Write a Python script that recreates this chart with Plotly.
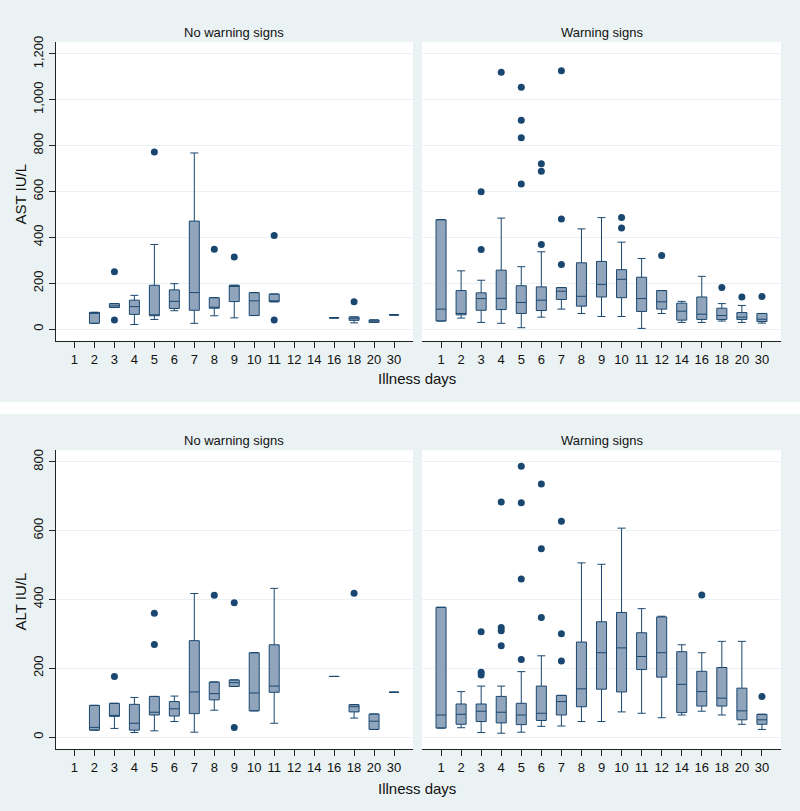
import plotly.graph_objects as go

days = ["1", "2", "3", "4", "5", "6", "7", "8", "9", "10", "11", "12", "14", "16", "18", "20", "30"]

# AST, no warning signs
ast_nw_x = ["2", "3", "4", "5", "6", "7", "8", "9", "10", "11", "16", "18", "20", "30"]
ast_nw_q1 = [25, 94, 64, 58, 90, 82, 91, 120, 59, 119, 49, 38, 29, 62]
ast_nw_med = [70, 101, 98, 60, 121, 159, 91, 186, 123, 119, 49, 45, 35, 62]
ast_nw_q3 = [73, 111, 126, 191, 171, 471, 137, 191, 159, 153, 49, 53, 40, 62]
ast_nw_lo = [25, 94, 20, 42, 80, 25, 58, 49, 59, 119, 49, 27, 29, 62]
ast_nw_hi = [73, 111, 147, 369, 198, 768, 137, 191, 159, 153, 49, 53, 40, 62]
ast_nw_out_x = ["3", "3", "5", "8", "9", "11", "11", "18"]
ast_nw_out_y = [250, 40, 772, 348, 314, 408, 40, 119]

# AST, warning signs
ast_w_x = ["1", "2", "3", "4", "5", "6", "7", "8", "9", "10", "11", "12", "14", "16", "18", "20", "30"]
ast_w_q1 = [35, 62, 82, 85, 68, 81, 129, 100, 140, 137, 77, 87, 39, 42, 42, 42, 33]
ast_w_med = [87, 68, 133, 134, 116, 126, 165, 143, 195, 217, 133, 119, 78, 65, 59, 52, 43]
ast_w_q3 = [477, 168, 158, 257, 189, 184, 181, 289, 295, 259, 226, 168, 113, 140, 91, 72, 68]
ast_w_lo = [35, 48, 29, 25, 6, 52, 87, 68, 55, 55, 3, 68, 29, 29, 35, 29, 26]
ast_w_hi = [477, 254, 213, 484, 272, 337, 181, 437, 486, 379, 308, 168, 121, 230, 111, 103, 68]
ast_w_out_x = ["3", "3", "4", "5", "5", "5", "5", "6", "6", "6", "7", "7", "7", "10", "10", "12", "18", "20", "30"]
ast_w_out_y = [599, 347, 1120, 1055, 911, 834, 633, 721, 688, 369, 1126, 480, 282, 486, 441, 321, 181, 140, 142]

# ALT, no warning signs
alt_nw_x = ["2", "3", "4", "5", "6", "7", "8", "9", "10", "11", "16", "18", "20", "30"]
alt_nw_q1 = [20, 60, 20, 64, 61, 68, 108, 147, 76, 130, 176, 73, 22, 130]
alt_nw_med = [28, 61, 40, 72, 82, 131, 126, 158, 128, 148, 176, 88, 46, 130]
alt_nw_q3 = [92, 98, 95, 118, 103, 280, 160, 166, 245, 268, 176, 94, 67, 130]
alt_nw_lo = [20, 25, 13, 18, 45, 14, 78, 147, 76, 40, 176, 55, 22, 130]
alt_nw_hi = [92, 98, 115, 118, 119, 417, 160, 166, 245, 432, 176, 94, 67, 130]
alt_nw_out_x = ["3", "5", "5", "8", "9", "9", "18"]
alt_nw_out_y = [176, 360, 269, 412, 390, 28, 418]

# ALT, warning signs
alt_w_x = ["1", "2", "3", "4", "5", "6", "7", "8", "9", "10", "11", "12", "14", "16", "18", "20", "30"]
alt_w_q1 = [26, 37, 45, 41, 36, 48, 64, 88, 139, 131, 196, 174, 71, 90, 90, 50, 37]
alt_w_med = [64, 66, 75, 72, 64, 69, 103, 140, 245, 259, 234, 245, 153, 132, 113, 76, 50]
alt_w_q3 = [377, 96, 96, 118, 98, 148, 121, 276, 335, 362, 303, 349, 248, 191, 202, 142, 66]
alt_w_lo = [26, 27, 13, 11, 14, 31, 32, 45, 45, 73, 69, 56, 64, 75, 64, 37, 22]
alt_w_hi = [377, 132, 148, 148, 190, 236, 121, 506, 502, 607, 373, 351, 268, 245, 278, 278, 66]
alt_w_out_x = ["3", "3", "3", "4", "4", "4", "4", "5", "5", "5", "5", "6", "6", "6", "7", "7", "7", "16", "30"]
alt_w_out_y = [306, 188, 180, 683, 318, 309, 265, 787, 681, 459, 225, 735, 547, 347, 627, 300, 221, 413, 118]

BG = "#EAF2F3"
NAVY = "#1A476F"
FILL = "#90A4BB"
FONT = "Liberation Sans"

fig = go.Figure()


def add_panel(xa, ya, x, q1, med, q3, lo, hi, out_x, out_y):
    fig.add_trace(go.Box(
        x=x, q1=q1, median=med, q3=q3, lowerfence=lo, upperfence=hi,
        xaxis=xa, yaxis=ya, width=0.5, whiskerwidth=0.8,
        fillcolor=FILL, line=dict(color=NAVY, width=1),
        boxpoints=False, showlegend=False, hoverinfo="skip"))
    fig.add_trace(go.Scatter(
        x=out_x, y=out_y, mode="markers", xaxis=xa, yaxis=ya,
        marker=dict(color=NAVY, size=7), showlegend=False))


add_panel("x", "y", ast_nw_x, ast_nw_q1, ast_nw_med, ast_nw_q3,
          ast_nw_lo, ast_nw_hi, ast_nw_out_x, ast_nw_out_y)
add_panel("x2", "y2", ast_w_x, ast_w_q1, ast_w_med, ast_w_q3,
          ast_w_lo, ast_w_hi, ast_w_out_x, ast_w_out_y)
add_panel("x3", "y3", alt_nw_x, alt_nw_q1, alt_nw_med, alt_nw_q3,
          alt_nw_lo, alt_nw_hi, alt_nw_out_x, alt_nw_out_y)
add_panel("x4", "y4", alt_w_x, alt_w_q1, alt_w_med, alt_w_q3,
          alt_w_lo, alt_w_hi, alt_w_out_x, alt_w_out_y)

W, H = 800, 811
left_dom = [55.5 / W, 413 / W]
right_dom = [422 / W, 781 / W]
top_dom = [(H - 337.5) / H, (H - 36) / H]
bot_dom = [(H - 748.5) / H, (H - 447.5) / H]

xcommon = dict(type="category", categoryorder="array", categoryarray=days,
               range=[-0.95, 16.95], showline=True, linecolor="#222",
               linewidth=1, ticks="outside", ticklen=6, tickcolor="#222",
               showgrid=False, tickfont=dict(size=13, color="#111"))
ycommon = dict(gridcolor=BG, gridwidth=1, zeroline=False)

fig.update_layout(
    width=W, height=H,
    margin=dict(l=0, r=0, t=0, b=0),
    paper_bgcolor=BG, plot_bgcolor="white",
    font=dict(family=FONT, color="#111"),
    xaxis=dict(domain=left_dom, anchor="y", **xcommon),
    xaxis2=dict(domain=right_dom, anchor="y2", **xcommon),
    xaxis3=dict(domain=left_dom, anchor="y3", **xcommon),
    xaxis4=dict(domain=right_dom, anchor="y4", **xcommon),
    yaxis=dict(domain=top_dom, anchor="x", range=[-52, 1253],
               tickvals=[0, 200, 400, 600, 800, 1000, 1200], tickformat=",",
               showline=True, linecolor="#222", ticks="outside", ticklen=6,
               tickcolor="#222", tickangle=-90, tickfont=dict(size=13),
               **ycommon),
    yaxis2=dict(domain=top_dom, anchor="x2", range=[-52, 1253],
                tickvals=[0, 200, 400, 600, 800, 1000, 1200],
                showticklabels=False, showline=False, **ycommon),
    yaxis3=dict(domain=bot_dom, anchor="x3", range=[-34.7, 833.5],
                tickvals=[0, 200, 400, 600, 800],
                showline=True, linecolor="#222", ticks="outside", ticklen=6,
                tickcolor="#222", tickangle=-90, tickfont=dict(size=13),
                **ycommon),
    yaxis4=dict(domain=bot_dom, anchor="x4", range=[-34.7, 833.5],
                tickvals=[0, 200, 400, 600, 800],
                showticklabels=False, showline=False, **ycommon),
)

# white strip between the two graphs
fig.add_shape(type="rect", xref="paper", yref="paper",
              x0=0, x1=1, y0=(H - 411) / H, y1=(H - 399) / H,
              fillcolor="white", line=dict(width=0), layer="below")

ann = [
    ("No warning signs", (55.5 + 413) / 2 / W, (H - 27) / H, 13, 0),
    ("Warning signs", (422 + 781) / 2 / W, (H - 27) / H, 13, 0),
    ("No warning signs", (55.5 + 413) / 2 / W, (H - 438) / H, 13, 0),
    ("Warning signs", (422 + 781) / 2 / W, (H - 438) / H, 13, 0),
    ("Illness days", 417 / W, (H - 375) / H, 15, 0),
    ("Illness days", 417 / W, (H - 788) / H, 15, 0),
    ("AST IU/L", 21 / W, (H - 190) / H, 15, -90),
    ("ALT IU/L", 21 / W, (H - 600) / H, 15, -90),
]
for text, ax_, ay_, size, angle in ann:
    fig.add_annotation(text=text, x=ax_, y=ay_, xref="paper", yref="paper",
                       showarrow=False, textangle=angle,
                       font=dict(size=size, color="#111"),
                       xanchor="center", yanchor="middle")

# drop the browser's default page margin so the figure sits at 0,0
fig.write_html("out.html", config={"displayModeBar": False},
               post_script="document.body.style.margin='0px';")
